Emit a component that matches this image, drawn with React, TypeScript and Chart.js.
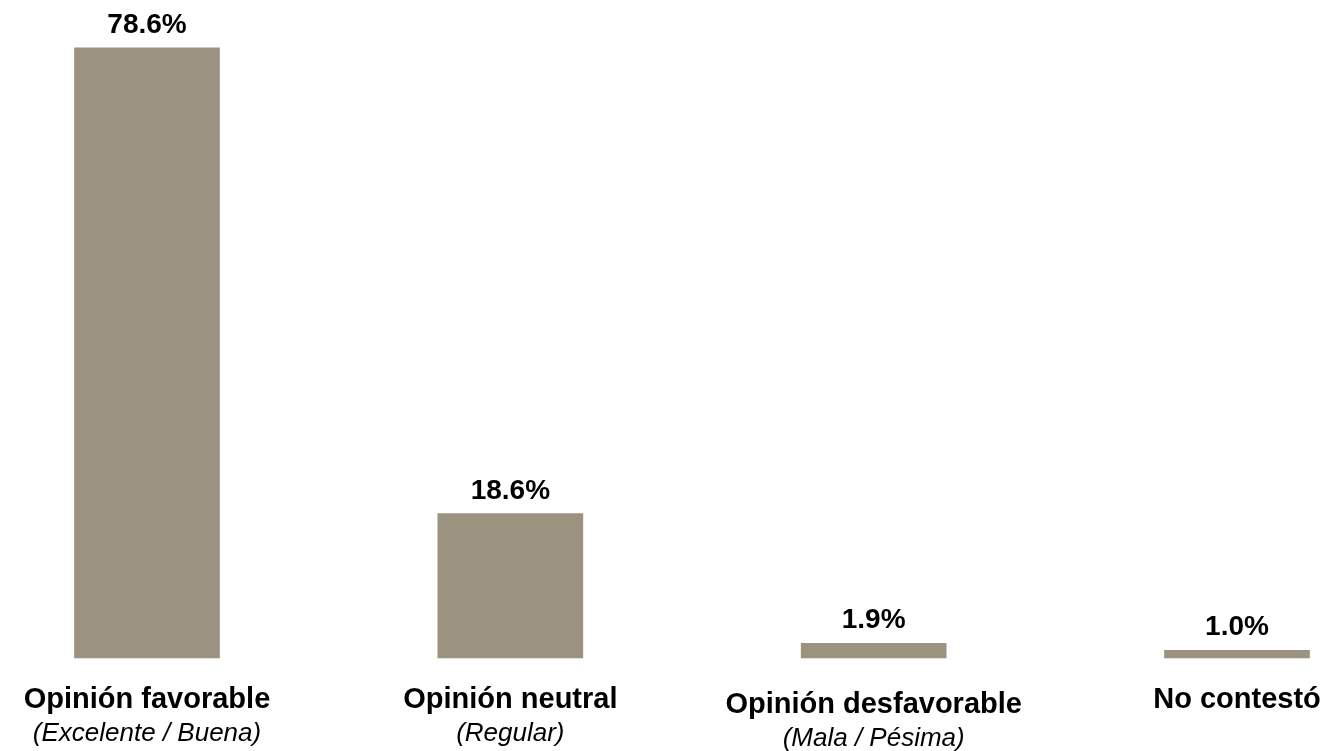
import React, { useEffect, useRef } from "react";
import { Chart, registerables } from "chart.js";

Chart.register(...registerables);

const categories = ["Opinión favorable", "Opinión neutral", "Opinión desfavorable", "No contestó"];
const subtitles = ["(Excelente / Buena)", "(Regular)", "(Mala / Pésima)", ""];
const values = [78.6, 18.6, 1.9, 1.0];
const labelShift = [0, 0, 5, 0];

const FONT = "'Liberation Sans', Arial, Helvetica, sans-serif";

const labelsPlugin = {
  id: "customLabels",
  afterDatasetsDraw(chart: any) {
    const ctx = chart.ctx;
    const meta = chart.getDatasetMeta(0);
    const xScale = chart.scales.x;
    ctx.save();
    ctx.fillStyle = "#000000";
    ctx.textAlign = "center";
    ctx.textBaseline = "alphabetic";
    // value labels
    ctx.font = `bold 28px ${FONT}`;
    meta.data.forEach((bar: any, i: number) => {
      ctx.fillText(values[i].toFixed(1) + "%", bar.x, bar.y - 15);
    });
    // category labels
    categories.forEach((c, i) => {
      const x = xScale.getPixelForValue(i);
      ctx.font = `bold 29px ${FONT}`;
      ctx.fillText(c, x, 708 + labelShift[i]);
      if (subtitles[i]) {
        ctx.font = `italic 26px ${FONT}`;
        ctx.fillText(subtitles[i], x, 741 + labelShift[i]);
      }
    });
    ctx.restore();
  },
};

export default function App() {
  const ref = useRef<HTMLCanvasElement | null>(null);
  useEffect(() => {
    if (!ref.current) return;
    const chart = new Chart(ref.current, {
      type: "bar",
      data: {
        labels: categories,
        datasets: [
          {
            data: values,
            backgroundColor: "#9b9280",
            borderWidth: 0,
            barThickness: 145,
            clip: false as any,
          },
        ],
      },
      options: {
        animation: false,
        responsive: true,
        maintainAspectRatio: false,
        layout: { padding: { left: 147, right: 89, top: 37, bottom: 93 } },
        plugins: { legend: { display: false }, tooltip: { enabled: false } },
        scales: {
          x: { type: "category", offset: false, display: false, grid: { display: false } },
          y: { min: 0, max: 80, display: false, grid: { display: false } },
        },
      },
      plugins: [labelsPlugin],
    });
    return () => chart.destroy();
  }, []);
  return (
    <div style={{ position: "fixed", left: 0, top: 0, width: 1326, height: 751, background: "#ffffff" }}>
      <canvas ref={ref} />
    </div>
  );
}
